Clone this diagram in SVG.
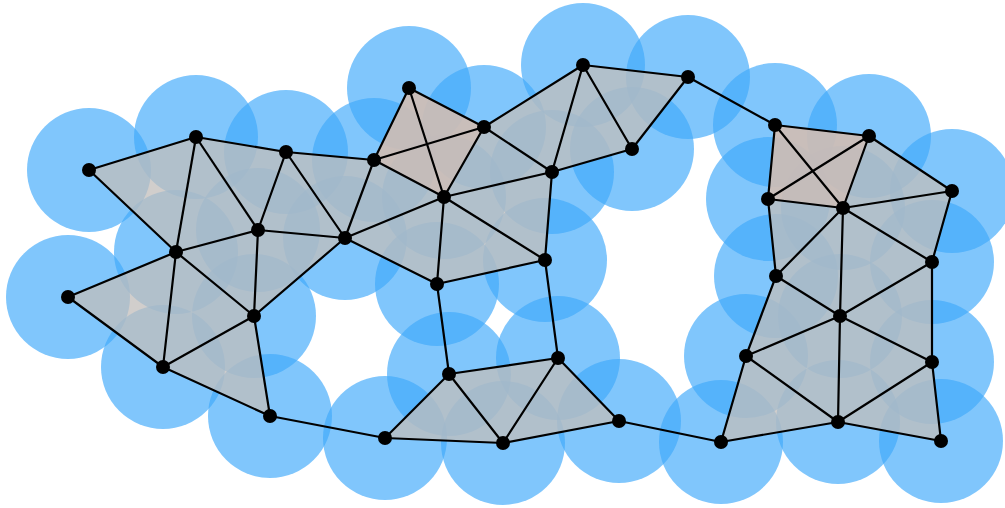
<svg xmlns="http://www.w3.org/2000/svg" width="1005" height="508" viewBox="0 0 1005 508">
  <style>
    .disk { fill: #3ea8fa; fill-opacity: 0.66; }
    .tri { fill: #c2bdbb; fill-opacity: 0.75; stroke: none; }
    .tet { fill: #d0bdb2; fill-opacity: 0.9; stroke: none; }
    .edge { stroke: #000; stroke-width: 2.2; stroke-linecap: round; fill: none; }
    .node circle { fill: #000; }
  </style>
  <rect width="1005" height="508" fill="#fff"/>

  <!-- coverage disks, radius 62 around every sample point -->
  <g id="cover">
    <circle class="disk" cx="89" cy="170" r="62"/>
    <circle class="disk" cx="196" cy="137" r="62"/>
    <circle class="disk" cx="286" cy="152" r="62"/>
    <circle class="disk" cx="374" cy="160" r="62"/>
    <circle class="disk" cx="409" cy="88" r="62"/>
    <circle class="disk" cx="484" cy="127" r="62"/>
    <circle class="disk" cx="583" cy="65" r="62"/>
    <circle class="disk" cx="688" cy="77" r="62"/>
    <circle class="disk" cx="632" cy="149" r="62"/>
    <circle class="disk" cx="552" cy="172" r="62"/>
    <circle class="disk" cx="444" cy="197" r="62"/>
    <circle class="disk" cx="345" cy="238" r="62"/>
    <circle class="disk" cx="258" cy="230" r="62"/>
    <circle class="disk" cx="176" cy="252" r="62"/>
    <circle class="disk" cx="68" cy="297" r="62"/>
    <circle class="disk" cx="254" cy="316" r="62"/>
    <circle class="disk" cx="163" cy="367" r="62"/>
    <circle class="disk" cx="270" cy="416" r="62"/>
    <circle class="disk" cx="385" cy="438" r="62"/>
    <circle class="disk" cx="437" cy="284" r="62"/>
    <circle class="disk" cx="545" cy="260" r="62"/>
    <circle class="disk" cx="449" cy="374" r="62"/>
    <circle class="disk" cx="558" cy="358" r="62"/>
    <circle class="disk" cx="503" cy="443" r="62"/>
    <circle class="disk" cx="619" cy="421" r="62"/>
    <circle class="disk" cx="721" cy="442" r="62"/>
    <circle class="disk" cx="746" cy="356" r="62"/>
    <circle class="disk" cx="776" cy="276" r="62"/>
    <circle class="disk" cx="768" cy="199" r="62"/>
    <circle class="disk" cx="775" cy="125" r="62"/>
    <circle class="disk" cx="869" cy="136" r="62"/>
    <circle class="disk" cx="843" cy="208" r="62"/>
    <circle class="disk" cx="952" cy="191" r="62"/>
    <circle class="disk" cx="932" cy="262" r="62"/>
    <circle class="disk" cx="840" cy="316" r="62"/>
    <circle class="disk" cx="932" cy="362" r="62"/>
    <circle class="disk" cx="838" cy="422" r="62"/>
    <circle class="disk" cx="941" cy="441" r="62"/>
  </g>

  <!-- 2-simplices -->
  <g id="faces">
    <polygon class="tri" points="89,170 196,137 176,252"/>
    <polygon class="tri" points="196,137 258,230 176,252"/>
    <polygon class="tri" points="196,137 286,152 258,230"/>
    <polygon class="tri" points="286,152 258,230 345,238"/>
    <polygon class="tri" points="286,152 374,160 345,238"/>
    <polygon class="tri" points="258,230 176,252 254,316"/>
    <polygon class="tri" points="258,230 345,238 254,316"/>
    <polygon class="tri" points="176,252 68,297 163,367"/>
    <polygon class="tri" points="176,252 163,367 254,316"/>
    <polygon class="tri" points="163,367 254,316 270,416"/>
    <polygon class="tri" points="484,127 583,65 552,172"/>
    <polygon class="tri" points="583,65 632,149 552,172"/>
    <polygon class="tri" points="583,65 688,77 632,149"/>
    <polygon class="tri" points="484,127 444,197 552,172"/>
    <polygon class="tri" points="374,160 444,197 345,238"/>
    <polygon class="tri" points="345,238 444,197 437,284"/>
    <polygon class="tri" points="444,197 437,284 545,260"/>
    <polygon class="tri" points="444,197 552,172 545,260"/>
    <polygon class="tri" points="385,438 449,374 503,443"/>
    <polygon class="tri" points="449,374 558,358 503,443"/>
    <polygon class="tri" points="558,358 503,443 619,421"/>
    <polygon class="tri" points="869,136 843,208 952,191"/>
    <polygon class="tri" points="843,208 952,191 932,262"/>
    <polygon class="tri" points="768,199 843,208 776,276"/>
    <polygon class="tri" points="776,276 843,208 840,316"/>
    <polygon class="tri" points="843,208 932,262 840,316"/>
    <polygon class="tri" points="932,262 840,316 932,362"/>
    <polygon class="tri" points="776,276 840,316 746,356"/>
    <polygon class="tri" points="746,356 840,316 838,422"/>
    <polygon class="tri" points="840,316 932,362 838,422"/>
    <polygon class="tri" points="932,362 838,422 941,441"/>
    <polygon class="tri" points="721,442 746,356 838,422"/>
    <!-- 3-simplices -->
    <polygon class="tet" points="409,88 484,127 444,197 374,160"/>
    <polygon class="tet" points="775,125 869,136 843,208 768,199"/>
  </g>

  <!-- 1-simplices -->
  <g id="connectors" class="edge">
    <line x1="89" y1="170" x2="196" y2="137"/>
    <line x1="89" y1="170" x2="176" y2="252"/>
    <line x1="196" y1="137" x2="176" y2="252"/>
    <line x1="196" y1="137" x2="258" y2="230"/>
    <line x1="196" y1="137" x2="286" y2="152"/>
    <line x1="286" y1="152" x2="258" y2="230"/>
    <line x1="286" y1="152" x2="345" y2="238"/>
    <line x1="286" y1="152" x2="374" y2="160"/>
    <line x1="374" y1="160" x2="345" y2="238"/>
    <line x1="258" y1="230" x2="345" y2="238"/>
    <line x1="258" y1="230" x2="176" y2="252"/>
    <line x1="258" y1="230" x2="254" y2="316"/>
    <line x1="176" y1="252" x2="254" y2="316"/>
    <line x1="345" y1="238" x2="254" y2="316"/>
    <line x1="176" y1="252" x2="68" y2="297"/>
    <line x1="176" y1="252" x2="163" y2="367"/>
    <line x1="68" y1="297" x2="163" y2="367"/>
    <line x1="163" y1="367" x2="254" y2="316"/>
    <line x1="254" y1="316" x2="270" y2="416"/>
    <line x1="163" y1="367" x2="270" y2="416"/>
    <line x1="270" y1="416" x2="385" y2="438"/>
    <line x1="374" y1="160" x2="409" y2="88"/>
    <line x1="409" y1="88" x2="484" y2="127"/>
    <line x1="409" y1="88" x2="444" y2="197"/>
    <line x1="374" y1="160" x2="484" y2="127"/>
    <line x1="374" y1="160" x2="444" y2="197"/>
    <line x1="484" y1="127" x2="444" y2="197"/>
    <line x1="484" y1="127" x2="583" y2="65"/>
    <line x1="484" y1="127" x2="552" y2="172"/>
    <line x1="583" y1="65" x2="552" y2="172"/>
    <line x1="583" y1="65" x2="632" y2="149"/>
    <line x1="583" y1="65" x2="688" y2="77"/>
    <line x1="688" y1="77" x2="632" y2="149"/>
    <line x1="632" y1="149" x2="552" y2="172"/>
    <line x1="444" y1="197" x2="552" y2="172"/>
    <line x1="444" y1="197" x2="345" y2="238"/>
    <line x1="444" y1="197" x2="437" y2="284"/>
    <line x1="444" y1="197" x2="545" y2="260"/>
    <line x1="345" y1="238" x2="437" y2="284"/>
    <line x1="437" y1="284" x2="545" y2="260"/>
    <line x1="552" y1="172" x2="545" y2="260"/>
    <line x1="437" y1="284" x2="449" y2="374"/>
    <line x1="545" y1="260" x2="558" y2="358"/>
    <line x1="449" y1="374" x2="558" y2="358"/>
    <line x1="385" y1="438" x2="449" y2="374"/>
    <line x1="449" y1="374" x2="503" y2="443"/>
    <line x1="558" y1="358" x2="503" y2="443"/>
    <line x1="558" y1="358" x2="619" y2="421"/>
    <line x1="385" y1="438" x2="503" y2="443"/>
    <line x1="503" y1="443" x2="619" y2="421"/>
    <line x1="619" y1="421" x2="721" y2="442"/>
    <line x1="688" y1="77" x2="775" y2="125"/>
    <line x1="775" y1="125" x2="869" y2="136"/>
    <line x1="775" y1="125" x2="768" y2="199"/>
    <line x1="775" y1="125" x2="843" y2="208"/>
    <line x1="768" y1="199" x2="869" y2="136"/>
    <line x1="869" y1="136" x2="843" y2="208"/>
    <line x1="768" y1="199" x2="843" y2="208"/>
    <line x1="869" y1="136" x2="952" y2="191"/>
    <line x1="843" y1="208" x2="952" y2="191"/>
    <line x1="952" y1="191" x2="932" y2="262"/>
    <line x1="843" y1="208" x2="932" y2="262"/>
    <line x1="768" y1="199" x2="776" y2="276"/>
    <line x1="843" y1="208" x2="776" y2="276"/>
    <line x1="843" y1="208" x2="840" y2="316"/>
    <line x1="932" y1="262" x2="840" y2="316"/>
    <line x1="776" y1="276" x2="840" y2="316"/>
    <line x1="932" y1="262" x2="932" y2="362"/>
    <line x1="776" y1="276" x2="746" y2="356"/>
    <line x1="746" y1="356" x2="840" y2="316"/>
    <line x1="840" y1="316" x2="932" y2="362"/>
    <line x1="840" y1="316" x2="838" y2="422"/>
    <line x1="746" y1="356" x2="838" y2="422"/>
    <line x1="932" y1="362" x2="838" y2="422"/>
    <line x1="932" y1="362" x2="941" y2="441"/>
    <line x1="838" y1="422" x2="941" y2="441"/>
    <line x1="746" y1="356" x2="721" y2="442"/>
    <line x1="721" y1="442" x2="838" y2="422"/>
  </g>

  <!-- 0-simplices -->
  <g id="n1" class="node"><circle cx="89" cy="170" r="7"/></g>
  <g id="n2" class="node"><circle cx="196" cy="137" r="7"/></g>
  <g id="n3" class="node"><circle cx="286" cy="152" r="7"/></g>
  <g id="n4" class="node"><circle cx="374" cy="160" r="7"/></g>
  <g id="n5" class="node"><circle cx="409" cy="88" r="7"/></g>
  <g id="n6" class="node"><circle cx="484" cy="127" r="7"/></g>
  <g id="n7" class="node"><circle cx="583" cy="65" r="7"/></g>
  <g id="n8" class="node"><circle cx="688" cy="77" r="7"/></g>
  <g id="n9" class="node"><circle cx="632" cy="149" r="7"/></g>
  <g id="n10" class="node"><circle cx="552" cy="172" r="7"/></g>
  <g id="n11" class="node"><circle cx="444" cy="197" r="7"/></g>
  <g id="n12" class="node"><circle cx="345" cy="238" r="7"/></g>
  <g id="n13" class="node"><circle cx="258" cy="230" r="7"/></g>
  <g id="n14" class="node"><circle cx="176" cy="252" r="7"/></g>
  <g id="n15" class="node"><circle cx="68" cy="297" r="7"/></g>
  <g id="n16" class="node"><circle cx="254" cy="316" r="7"/></g>
  <g id="n17" class="node"><circle cx="163" cy="367" r="7"/></g>
  <g id="n18" class="node"><circle cx="270" cy="416" r="7"/></g>
  <g id="n19" class="node"><circle cx="385" cy="438" r="7"/></g>
  <g id="n20" class="node"><circle cx="437" cy="284" r="7"/></g>
  <g id="n21" class="node"><circle cx="545" cy="260" r="7"/></g>
  <g id="n22" class="node"><circle cx="449" cy="374" r="7"/></g>
  <g id="n23" class="node"><circle cx="558" cy="358" r="7"/></g>
  <g id="n24" class="node"><circle cx="503" cy="443" r="7"/></g>
  <g id="n25" class="node"><circle cx="619" cy="421" r="7"/></g>
  <g id="n26" class="node"><circle cx="721" cy="442" r="7"/></g>
  <g id="n27" class="node"><circle cx="746" cy="356" r="7"/></g>
  <g id="n28" class="node"><circle cx="776" cy="276" r="7"/></g>
  <g id="n29" class="node"><circle cx="768" cy="199" r="7"/></g>
  <g id="n30" class="node"><circle cx="775" cy="125" r="7"/></g>
  <g id="n31" class="node"><circle cx="869" cy="136" r="7"/></g>
  <g id="n32" class="node"><circle cx="843" cy="208" r="7"/></g>
  <g id="n33" class="node"><circle cx="952" cy="191" r="7"/></g>
  <g id="n34" class="node"><circle cx="932" cy="262" r="7"/></g>
  <g id="n35" class="node"><circle cx="840" cy="316" r="7"/></g>
  <g id="n36" class="node"><circle cx="932" cy="362" r="7"/></g>
  <g id="n37" class="node"><circle cx="838" cy="422" r="7"/></g>
  <g id="n38" class="node"><circle cx="941" cy="441" r="7"/></g>
</svg>
